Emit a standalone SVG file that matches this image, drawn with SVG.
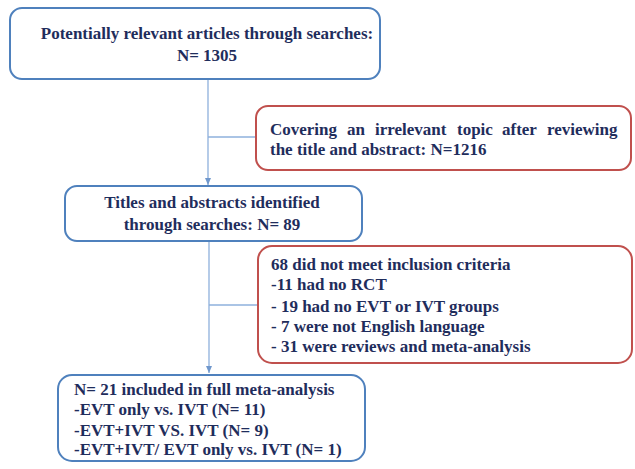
<svg xmlns="http://www.w3.org/2000/svg" width="635" height="469" viewBox="0 0 635 469">
<style>
.blue{fill:#fff;stroke:#4f81bd;stroke-width:2}
.red{fill:#fff;stroke:#c0504d;stroke-width:2}
.t{font-family:"Liberation Serif",serif;font-weight:bold;font-size:17px;fill:#1f2d5c}
.c{text-anchor:middle}
.ln{stroke:#8eb0dc;stroke-width:1.3;fill:none}
</style>
<defs>
<marker id="ah" markerWidth="8" markerHeight="8" refX="7" refY="4" orient="auto" markerUnits="userSpaceOnUse">
<path d="M0,1 L7,4 L0,7 Z" fill="#6f97cc"/>
</marker>
</defs>
<rect width="635" height="469" fill="#fff"/>
<g id="connectors">
<path class="ln" d="M208,79 V185" marker-end="url(#ah)"/>
<path class="ln" d="M208,137 H256"/>
<path class="ln" d="M209,241 V373" marker-end="url(#ah)"/>
<path class="ln" d="M209,305 H258"/>
</g>
<g id="n1">
<rect class="blue" x="10" y="8" width="370" height="71" rx="12"/>
<text class="t c" x="207" y="39">Potentially relevant articles through searches:</text>
<text class="t c" x="207" y="61">N= 1305</text>
</g>
<g id="n2">
<rect class="red" x="256" y="106" width="375" height="64" rx="12"/>
<text class="t" y="135"><tspan x="270">Covering</tspan> <tspan x="347">an</tspan> <tspan x="375">irrelevant</tspan> <tspan x="457">topic</tspan> <tspan x="502">after</tspan> <tspan x="547">reviewing</tspan></text>
<text class="t" x="270" y="155">the title and abstract: N=1216</text>
</g>
<g id="n3">
<rect class="blue" x="65" y="186" width="297" height="55" rx="12"/>
<text class="t c" x="212" y="208">Titles and abstracts identified</text>
<text class="t c" x="212" y="230">through searches: N= 89</text>
</g>
<g id="n4">
<rect class="red" x="258" y="246" width="374" height="117" rx="14"/>
<text class="t" x="271" y="270">68 did not meet inclusion criteria</text>
<text class="t" x="271" y="290">-11 had no RCT</text>
<text class="t" x="271" y="312">- 19 had no EVT or IVT groups</text>
<text class="t" x="271" y="332">- 7 were not English language</text>
<text class="t" x="271" y="352">- 31 were reviews and meta-analysis</text>
</g>
<g id="n5">
<rect class="blue" x="58" y="375" width="307" height="86" rx="14"/>
<text class="t" x="74" y="395">N= 21 included in full meta-analysis</text>
<text class="t" x="74" y="415">-EVT only vs. IVT (N= 11)</text>
<text class="t" x="74" y="436">-EVT+IVT VS. IVT (N= 9)</text>
<text class="t" x="74" y="455">-EVT+IVT/ EVT only vs. IVT (N= 1)</text>
</g>
</svg>
